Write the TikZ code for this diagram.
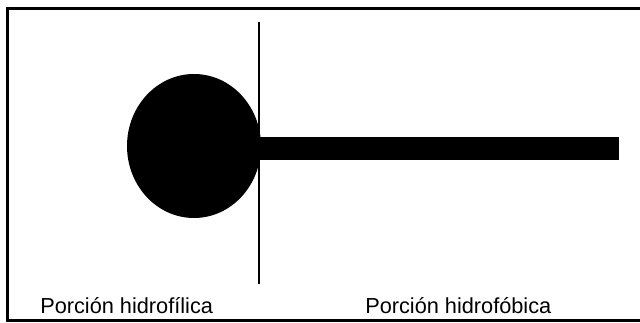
\documentclass[tikz,border=0pt]{standalone}
\usepackage{fontspec}
\setmainfont{Liberation Sans}
\usetikzlibrary{shapes.geometric, positioning}

\begin{document}
\begin{tikzpicture}[
    x=0.75pt, y=-0.75pt,
    head/.style={ellipse, fill=black, inner sep=0pt, minimum width=100.5pt, minimum height=108pt},
    tail/.style={rectangle, fill=black, inner sep=0pt, minimum width=270pt, minimum height=17.25pt},
    label/.style={inner sep=0pt, font=\fontsize{16.3}{19}\selectfont},
    frame/.style={draw, line width=2.25pt},
    divider/.style={draw, line width=1.6pt},
]
\useasboundingbox (0,0) rectangle (640,322);

% === FRAME ===
\draw[frame] (643,8) -- (7.5,8) -- (7.5,320) -- (643,320);

% === MOLECULE ===
\node[head] (polar) at (194,146) {};
\node[tail, anchor=west] (chain) at (259,148.5) {};

% === DIVIDER ===
\coordinate (divtop) at (259,22);
\coordinate (divbot) at (259,284);
\draw[divider] (divtop) -- (divbot);

% === LABELS ===
\node[label, anchor=base west] (hydrophilic) at (40,313) {Porción hidrofílica};
\node[label, anchor=base west] (hydrophobic) at (365,313) {Porción hidrofóbica};

\end{tikzpicture}
\end{document}
